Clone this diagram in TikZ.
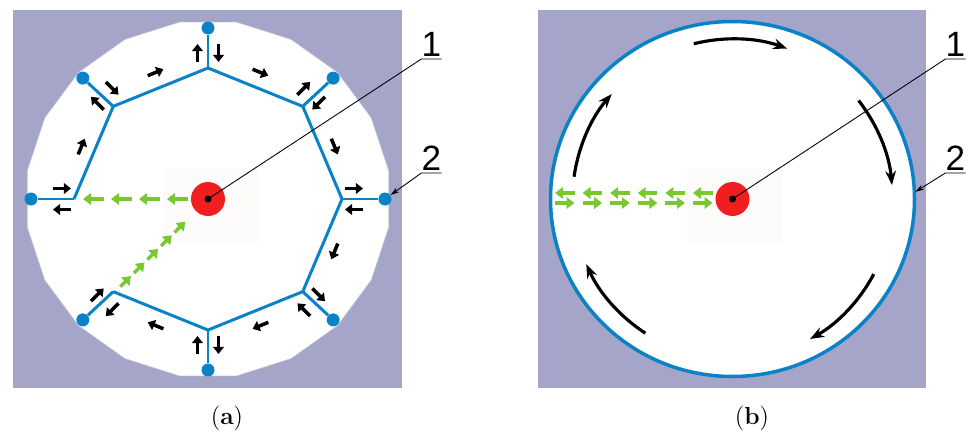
\documentclass[tikz,border=0pt]{standalone}
\usepackage{fontspec}
\setsansfont{Liberation Sans}
\usetikzlibrary{arrows.meta,calc}
\definecolor{bgpurple}{RGB}{165,165,201}
\definecolor{pipeblue}{RGB}{10,130,200}
\definecolor{srcred}{RGB}{240,30,30}
\definecolor{flowgreen}{RGB}{120,200,50}
\definecolor{haze}{RGB}{254,251,251}

\begin{document}
\begin{tikzpicture}[x=0.02cm, y=0.02cm,
  pipe/.style={pipeblue, line width=1.7pt, line join=round},
  jet/.style={circle, fill=pipeblue, minimum size=0.26cm, inner sep=0pt},
  source/.style={circle, fill=srcred, minimum size=0.68cm, inner sep=0pt},
  core/.style={circle, fill=black, minimum size=0.14cm, inner sep=0pt},
  flow/.style={line width=2pt, -{Triangle[length=4pt, width=6pt]}},
  seep/.style={flowgreen, line width=2pt, -{Triangle[length=4.5pt, width=6.5pt]}},
  swirl/.style={line width=1.8pt, -{Stealth[length=8pt, width=6pt]}},
  leader/.style={line width=0.5pt},
  lbl/.style={font=\fontsize{20}{24}\sffamily, inner xsep=0pt, inner ysep=1.5pt, anchor=south},
  panelcap/.style={font=\fontsize{14}{16}\selectfont}
]
\useasboundingbox (0,0) rectangle (966,434);

% (a) pipe network
\fill[bgpurple] (13,46) rectangle (402,424);
\coordinate (oa) at (208,235);
\fill[white, draw=gray!40, line width=0.3pt]
  plot[samples at={9,27,...,351}] ({208+183*cos(\x)},{235+179*sin(\x)}) -- cycle;
\fill[haze] (163,191) rectangle (258,266);
\foreach \a [count=\k from 0] in {180,135,...,-135} {
  \coordinate (v\k) at ($(oa)+(\a:134 and 131)$);
  \node[jet] (d\k) at ($(oa)+(\a:177 and 171)$) {};
}
\draw[pipe] (v0) -- (v1) -- (v2) -- (v3) -- (v4) -- (v5) -- (v6) -- (v7);
\foreach \k in {0,...,7} \draw[pipe] (v\k) -- (d\k);
\foreach \m in {157.5,112.5,...,-112.5}
  \draw[flow] ($(oa)+(\m:137)+(\m+90:8.5)$) -- ($(oa)+(\m:137)+(\m-90:8.5)$);
\foreach \a in {180,135,...,-135} {
  \draw[flow] ($(oa)+(\a:137)+(\a+90:10.5)$) -- ($(oa)+(\a:155)+(\a+90:10.5)$);
  \draw[flow] ($(oa)+(\a:155)+(\a-90:10.5)$) -- ($(oa)+(\a:137)+(\a-90:10.5)$);
}
\foreach \i in {0,...,3}
  \draw[seep] ($(oa)+(180:{20+28*\i})$) -- ($(oa)+(180:{41+28*\i})$);
\foreach \i in {0,...,4}
  \draw[seep] ($(oa)+(-135:{124-19.2*\i})$) -- ($(oa)+(-135:{109-19.2*\i})$);
\node[source] (ra) at (oa) {};
\node[core] (ka) at (oa) {};
\node[lbl] (n1a) at (431.5,375) {1};
\node[lbl] (n2a) at (431.5,261) {2};
\draw[leader] (ka.center) -- (n1a.south west) -- (n1a.south east);
\draw[leader, -{Stealth[length=5pt, width=3pt]}] (n2a.south east) -- (n2a.south west) -- (d4);
\node[panelcap] (capa) at (227,16) {(\textbf{a})};

% (b) open ring
\fill[bgpurple] (538,46) rectangle (926,424);
\coordinate (ob) at (732.5,235);
\filldraw[fill=white, draw=pipeblue, line width=2pt] (ob) ellipse[x radius=182, y radius=177.5];
\fill[haze] (687,191) rectangle (782,266);
\foreach \s/\e in {104/70, 38/5, -28/-61, 237/204, 172/139}
  \draw[swirl] ($(ob)+(\s:160)$) arc[start angle=\s, end angle=\e, radius=160];
\foreach \i in {0,...,5} {
  \draw[seep] ($(ob)+({-158+27.6*\i},6)$) -- ($(ob)+({-177.5+27.6*\i},6)$);
  \draw[seep] ($(ob)+({-177.5+27.6*\i},-4)$) -- ($(ob)+({-158+27.6*\i},-4)$);
}
\node[source] (rb) at (ob) {};
\node[core] (kb) at (ob) {};
\coordinate (rimb) at ($(ob)+(2.3:183 and 178.5)$);
\node[lbl] (n1b) at (955.5,375) {1};
\node[lbl] (n2b) at (955.5,261) {2};
\draw[leader] (kb.center) -- (n1b.south west) -- (n1b.south east);
\draw[leader, -{Stealth[length=5pt, width=3pt]}] (n2b.south east) -- (n2b.south west) -- (rimb);
\node[panelcap] (capb) at (752,16) {(\textbf{b})};
\end{tikzpicture}
\end{document}
